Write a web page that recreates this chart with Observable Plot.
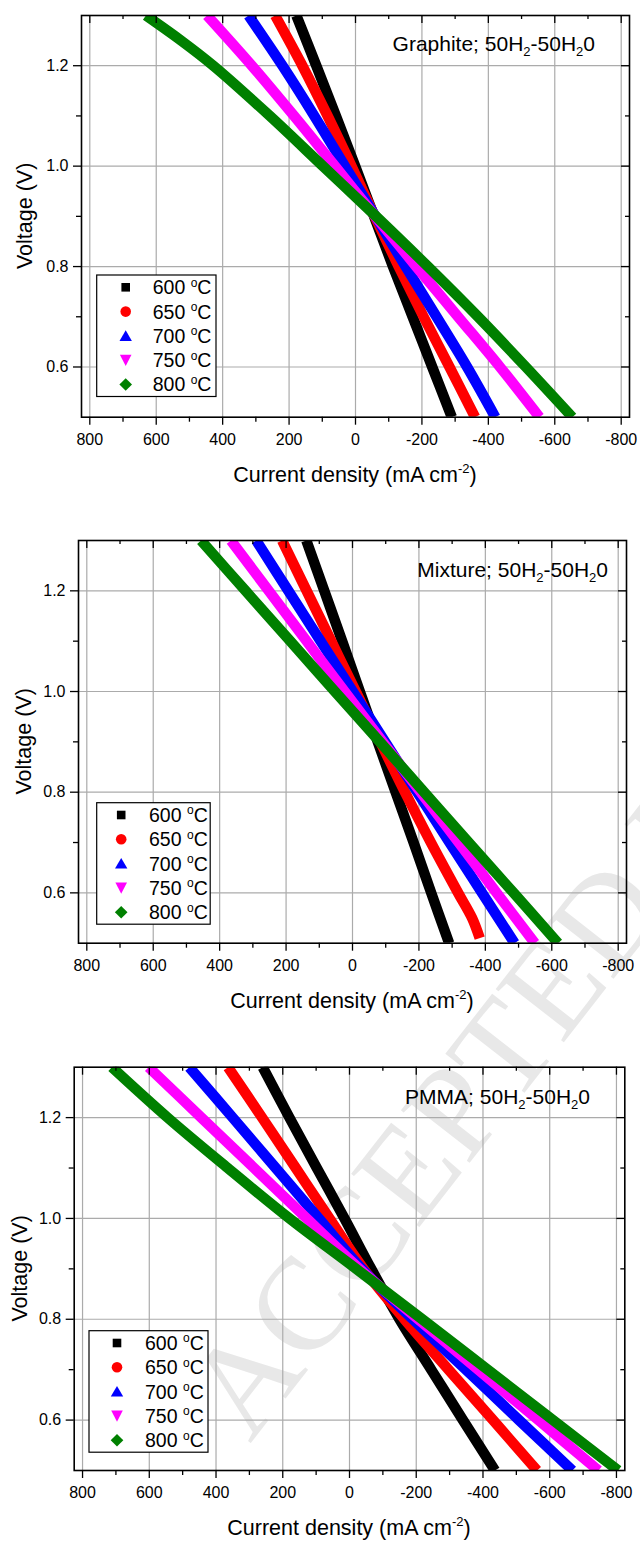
<!DOCTYPE html>
<html>
<head>
<meta charset="utf-8">
<script src="https://cdn.jsdelivr.net/npm/d3@7"></script>
<script src="https://cdn.jsdelivr.net/npm/@observablehq/plot@0.6"></script>
<style>
html,body{margin:0;padding:0;background:#fff;}
#root{position:relative;width:640px;height:1541px;overflow:hidden;background:#fff;}
#wm{position:absolute;left:0;top:0;}
.panel{position:absolute;left:0;width:640px;}
.panel svg{display:block;max-width:none;}
</style>
</head>
<body>
<div id="root"><svg id="wm" width="640" height="1541"></svg></div>
<script>
// ---------- data ----------
const voltage = [1.3, 1.2, 1.1, 1.0, 0.9, 0.8, 0.7, 0.6, 0.5];
const temps = ["600", "650", "700", "750", "800"];
const seriesColors = ["#000000", "#ff0000", "#0000ff", "#ff00ff", "#008000"];

// Graphite (current density, mA cm-2, at each voltage)
const graphite600 = [178, 118, 59, 1, -56, -113, -172, -231, -290];
const graphite650 = [242, 160, 84, 12, -58, -130, -205, -283, -360];
const graphite700 = [322, 220, 124, 32, -60, -151, -244, -336, -421];
const graphite750 = [447, 312, 185, 62, -60, -183, -309, -435, -554];
const graphite800V = [1.3, 1.25, 1.2, 1.1, 1.0, 0.9, 0.8, 0.7, 0.6, 0.5];
const graphite800 = [631, 525, 428, 258, 98, -62, -218, -369, -513, -653];

// Mixture
const mixture600 = [139, 85, 31, -22, -76, -130, -184, -237, -291];
const mixture650V = [1.3, 1.2, 1.1, 1.0, 0.9, 0.8, 0.7, 0.6, 0.55, 0.51];
const mixture650 = [212, 138, 64, -10, -84, -158, -236, -318, -360, -383];
const mixture700 = [290, 193, 96, -1, -98, -195, -292, -390, -488];
const mixture750 = [366, 252, 138, 24, -91, -205, -320, -434, -549];
const mixture800 = [456, 322, 187, 53, -82, -216, -350, -485, -619];

// PMMA
const pmma600 = [260, 180, 98, 15, -65, -150, -245, -340, -436];
const pmma650 = [364, 262, 161, 60, -42, -165, -297, -430, -562];
const pmma700 = [480, 350, 221, 92, -37, -190, -349, -508, -668];
const pmma750 = [602, 444, 286, 128, -30, -206, -386, -566, -746];
const pmma800 = [712, 545, 365, 180, -20, -218, -414, -610, -805];

// ticks
const xMajorTicks = [800, 600, 400, 200, 0, -200, -400, -600, -800];
const xMinorTicks = [700, 500, 300, 100, -100, -300, -500, -700];
const yMajorTicks = [0.6, 0.8, 1.0, 1.2];
const yMinorTicks = [0.7, 0.9, 1.1];

const panelNames = ["Graphite", "Mixture", "PMMA"];
const gasLabel = ["50H", "2", "-50H", "2", "0"];
const xTitle = ["Current density (mA cm", "-2", ")"];
const yTitle = "Voltage (V)";
const watermark = "ACCEPTED MANUSCRIPT";

// ---------- layout ----------
const FONT = "'Liberation Sans', Arial, Helvetica, sans-serif";
const W = 640;
const layouts = [
  {top: 0, height: 520, mt: 15, mb: 103.3, ml: 81, mr: 11,
   titleX: 595, titleY: 50.7, xtY: 481.7, ytX: 32,
   legend: {x: 96.7, y: 275, w: 119.3, h: 121.5, mx: 29, tx: 56}},
  {top: 520, height: 520, mt: 20, mb: 97.3, ml: 78, mr: 14,
   titleX: 608, titleY: 57.3, xtY: 488.3, ytX: 31,
   legend: {x: 96.7, y: 282.7, w: 113.5, h: 121.5, mx: 24.5, tx: 52.3}},
  {top: 1040, height: 501, mt: 26.7, mb: 71, ml: 73.7, mr: 15.7,
   titleX: 590, titleY: 64.3, xtY: 495, ytX: 27,
   legend: {x: 89, y: 290.7, w: 119, h: 121.5, mx: 28, tx: 56}}
];

const panelSeries = [
  {vs: [voltage, voltage, voltage, voltage, graphite800V],
   js: [graphite600, graphite650, graphite700, graphite750, graphite800]},
  {vs: [voltage, mixture650V, voltage, voltage, voltage],
   js: [mixture600, mixture650, mixture700, mixture750, mixture800]},
  {vs: [voltage, voltage, voltage, voltage, voltage],
   js: [pmma600, pmma650, pmma700, pmma750, pmma800]}
];

const symbolPaths = [
  "M-4.3,-4.3h8.6v8.6h-8.6z",
  "M5.3,0A5.3,5.3 0 1,1 -5.3,0A5.3,5.3 0 1,1 5.3,0Z",
  "M0,-5.6L6.2,5L-6.2,5Z",
  "M0,5.8L5.8,-5.4L-5.8,-5.4Z",
  "M0,-6.3L6.3,0L0,6.3L-6.3,0Z"
];

// watermark (behind)
d3.select("#wm").append("text")
  .attr("transform", "translate(250,1444) rotate(-52)")
  .attr("font-family", "'Liberation Serif', 'DejaVu Serif', serif")
  .attr("font-size", 132)
  .attr("fill", "#e8e8e8")
  .text(watermark);

const root = document.getElementById("root");

layouts.forEach((p, pi) => {
  const plotH = p.height - p.mt - p.mb;
  const plotW = W - p.ml - p.mr;
  const S = panelSeries[pi];
  const rows = temps.flatMap((t, i) => S.vs[i].map((v, k) => ({temp: t, v, j: S.js[i][k]})));

  const svg = Plot.plot({
    width: W, height: p.height,
    marginTop: p.mt, marginBottom: p.mb, marginLeft: p.ml, marginRight: p.mr,
    style: {background: "transparent", fontFamily: FONT, fontSize: "16px", color: "#000", overflow: "visible"},
    x: {domain: [825, -825], label: null},
    y: {domain: [0.5, 1.3], label: null},
    color: {domain: temps, range: seriesColors},
    marks: [
      Plot.gridX(xMajorTicks, {stroke: "#ababab", strokeOpacity: 1, strokeWidth: 1.2}),
      Plot.gridY(yMajorTicks, {stroke: "#ababab", strokeOpacity: 1, strokeWidth: 1.2}),
      Plot.line(rows, {x: "j", y: "v", z: "temp", stroke: "temp", strokeWidth: 10.5,
        curve: "catmull-rom", clip: true, strokeLinecap: "butt", strokeLinejoin: "round"}),
      Plot.frame({stroke: "#000", strokeWidth: 1.6}),
      Plot.axisX(xMajorTicks, {tickSize: 8, tickPadding: 8, tickFormat: d => String(d),
        fontSize: 16, strokeWidth: 1.3, label: null}),
      Plot.tickX(xMinorTicks, {x: d => d, insetTop: plotH, insetBottom: -5, strokeWidth: 1.3}),
      Plot.tickX(xMajorTicks, {x: d => d, insetBottom: plotH - 8, strokeWidth: 1.3}),
      Plot.tickX(xMinorTicks, {x: d => d, insetBottom: plotH - 4, strokeWidth: 1.3}),
      Plot.axisY(yMajorTicks, {tickSize: 8, tickPadding: 5, tickFormat: d => d.toFixed(1),
        fontSize: 16, strokeWidth: 1.3, label: null}),
      Plot.tickY(yMinorTicks, {y: d => d, insetRight: plotW, insetLeft: -5, strokeWidth: 1.3}),
      Plot.tickY(yMajorTicks, {y: d => d, insetLeft: plotW - 8, strokeWidth: 1.3}),
      Plot.tickY(yMinorTicks, {y: d => d, insetLeft: plotW - 4, strokeWidth: 1.3})
    ]
  });

  const s = d3.select(svg);
  // panel title
  const tt = s.append("text").attr("x", p.titleX).attr("y", p.titleY)
    .attr("text-anchor", "end").attr("font-family", FONT).attr("font-size", 21).attr("fill", "#000");
  tt.append("tspan").text(panelNames[pi] + "; " + gasLabel[0]);
  tt.append("tspan").attr("font-size", 13).attr("dy", 5).text(gasLabel[1]);
  tt.append("tspan").attr("dy", -5).text(gasLabel[2]);
  tt.append("tspan").attr("font-size", 13).attr("dy", 5).text(gasLabel[3]);
  tt.append("tspan").attr("dy", -5).text(gasLabel[4]);

  // x title
  const cx = p.ml + plotW / 2;
  const xt = s.append("text").attr("x", cx).attr("y", p.xtY).attr("text-anchor", "middle")
    .attr("font-family", FONT).attr("font-size", 21.5).attr("fill", "#000");
  xt.append("tspan").text(xTitle[0]);
  xt.append("tspan").attr("font-size", 13).attr("dy", -9).text(xTitle[1]);
  xt.append("tspan").attr("dy", 9).text(xTitle[2]);

  // y title
  const cy = p.mt + plotH / 2;
  s.append("text").attr("transform", `translate(${p.ytX},${cy}) rotate(-90)`)
    .attr("text-anchor", "middle").attr("font-family", FONT).attr("font-size", 21.5)
    .attr("fill", "#000").text(yTitle);

  // legend
  const L = p.legend;
  const g = s.append("g");
  g.append("rect").attr("x", L.x).attr("y", L.y).attr("width", L.w).attr("height", L.h)
    .attr("fill", "#fff").attr("stroke", "#000").attr("stroke-width", 1.2);
  temps.forEach((t, i) => {
    const ry = L.y + 12.3 + i * 24.3;
    g.append("path").attr("d", symbolPaths[i])
      .attr("transform", `translate(${L.x + L.mx},${ry})`).attr("fill", seriesColors[i]);
    const tx = g.append("text").attr("x", L.x + L.tx).attr("y", ry + 6.9)
      .attr("text-anchor", "start")
      .attr("font-family", FONT).attr("font-size", 19.5).attr("fill", "#000");
    tx.append("tspan").text(t + " ");
    tx.append("tspan").attr("font-size", 12).attr("dy", -7.5).text("o");
    tx.append("tspan").attr("dy", 7.5).text("C");
  });

  const div = document.createElement("div");
  div.className = "panel";
  div.style.top = p.top + "px";
  div.style.height = p.height + "px";
  div.appendChild(svg);
  root.appendChild(div);
});
</script>
</body>
</html>
